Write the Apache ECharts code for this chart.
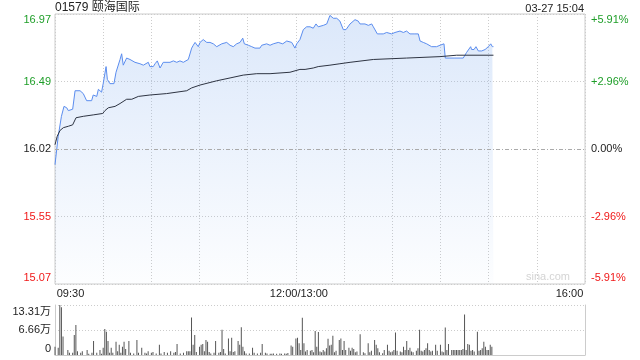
<!DOCTYPE html>
<html><head><meta charset="utf-8">
<script src="https://cdn.jsdelivr.net/npm/echarts@6/dist/echarts.min.js"></script>
<style>html,body{margin:0;padding:0;background:#fff}#c{width:640px;height:360px}</style>
</head><body><div id="c"></div>
<script>
const title = '01579 颐海国际';
const stamp = '03-27 15:04';
const preClose = 16.02;
const priceMin = 15.07, priceMax = 16.97;
const priceTicks = ['15.07', '15.55', '16.02', '16.49', '16.97'];
const pctTicks = ['-5.91%', '-2.96%', '0.00%', '+2.96%', '+5.91%'];
const tickColors = ['#f01818', '#f01818', '#222222', '#1e9e28', '#1e9e28'];
const timeTickPos = [0, 150, 330];
const timeTickText = ['09:30', '12:00/13:00', '16:00'];
const volMax = 13.31;
const volTicks = ['0', '6.66万', '13.31万'];

// minutes since 09:30 (lunch break removed)
const priceTimes = [
  0,2,4,5.6,6.2,7.3,8.3,11,12.5,15.6,
  17.6,19.7,22.8,23.8,24.9,26,27,29,30,31.8,
  32.6,34.2,36.7,38,40.5,41.5,42.5,44.6,46.7,49.8,
  50.9,52.9,55,56,58.1,59.1,61.2,62.3,63.7,65.4,
  67.4,71.6,73.7,75.8,77.8,79.9,80.9,83,84,85.1,
  86.1,87.2,88.2,89.2,90.3,92.3,94.5,96.5,98.6,100.7,
  101.7,103.8,106.9,109,111,113.1,115.2,116.9,117.9,120.4,
  122.5,124.5,127.6,128.7,131.8,133.9,135.9,139,140.1,141.8,
  144.3,147.4,149.4,150.5,152.5,154.6,156.7,158.8,160.8,162.5,
  163.9,167.1,169.2,171.2,173.3,175.4,177.4,179.5,181.2,183.7,
  186.8,188.8,189.9,193,195.1,197.2,198.2,200.7,202.4,204.4,
  206.5,209.6,211.7,214.8,216.9,218.9,221,224.1,226.2,227.3,
  229.3,231.4,232.4,234.5,237.6,239.7,242.2,243,245.9,249,
  250.1,252.2,254.2,256.3,257.3,258.8,259.4,260.9,262.1,263.6,
  265.7,267.8,269.8,271.3,272.3,273
];
const prices = [
  15.91,16.11,16.25,16.32,16.33,16.31,16.29,16.30,16.43,16.43,
  16.41,16.36,16.36,16.40,16.41,16.39,16.44,16.42,16.48,16.60,
  16.51,16.48,16.48,16.56,16.65,16.69,16.61,16.66,16.65,16.63,
  16.62,16.62,16.61,16.60,16.63,16.60,16.60,16.62,16.64,16.59,
  16.63,16.63,16.64,16.63,16.64,16.63,16.62,16.65,16.66,16.73,
  16.75,16.77,16.77,16.74,16.77,16.79,16.77,16.77,16.76,16.74,
  16.73,16.76,16.77,16.75,16.74,16.76,16.77,16.80,16.76,16.75,
  16.74,16.73,16.73,16.75,16.76,16.75,16.76,16.77,16.77,16.76,
  16.78,16.77,16.73,16.76,16.79,16.86,16.88,16.88,16.87,16.90,
  16.88,16.89,16.90,16.96,16.94,16.94,16.92,16.86,16.86,16.90,
  16.93,16.92,16.90,16.90,16.89,16.90,16.88,16.83,16.83,16.83,
  16.84,16.83,16.84,16.85,16.84,16.85,16.83,16.83,16.83,16.78,
  16.77,16.76,16.75,16.74,16.74,16.75,16.76,16.66,16.66,16.66,
  16.67,16.66,16.66,16.70,16.70,16.74,16.72,16.72,16.74,16.71,
  16.71,16.72,16.74,16.76,16.74,16.74
];
const avgTimes = [
  0,1.4,3.1,5.2,8.3,11,13.1,17.6,23.8,29.7,
  31.1,33.2,37.4,40.5,44.6,47.8,51.9,59.1,69.5,82,
  85.1,90.3,100.7,109,117.2,125.6,133.9,146.3,152.5,155.7,
  160.8,163.9,171.2,177.4,183.7,198.2,218.9,239.7,250.1,273
];
const avgPrices = [
  16.05,16.11,16.15,16.17,16.18,16.19,16.24,16.25,16.26,16.27,
  16.29,16.31,16.32,16.34,16.37,16.37,16.39,16.40,16.41,16.43,
  16.45,16.47,16.50,16.52,16.54,16.55,16.55,16.56,16.58,16.58,
  16.59,16.60,16.61,16.62,16.63,16.65,16.66,16.67,16.68,16.68
];
// [minute, volume in 万]
const volume = [
  [0,2.2],[2,1.9],[3,13.31],[4,12.7],[5,4.9],[8,1.3],[9,0.6],[11,0.6],[12,5.3],[13,8.0],
  [14,1.0],[16,0.6],[17,1.0],[20,1.3],[21,0.3],[23,0.6],[24,3.7],[26,0.6],[28,1.3],[29,0.3],
  [30,1.9],[31,6.9],[32,6.2],[33,3.7],[34,0.6],[35,1.9],[36,0.6],[38,3.5],[39,1.0],[40,2.7],
  [41,0.6],[42,2.2],[43,3.5],[44,1.6],[46,3.7],[47,0.6],[49,0.4],[51,4.0],[52,0.6],[54,1.9],
  [56,0.6],[57,0.4],[58,1.0],[60,0.6],[61,0.8],[63,0.4],[65,2.7],[66,0.4],[68,0.8],[70,0.6],
  [72,1.0],[74,0.6],[75,0.8],[76,2.9],[78,0.4],[80,0.6],[82,1.0],[83,1.0],[84,1.0],[85,10.0],
  [86,2.7],[87,5.3],[88,0.8],[90,2.2],[91,2.7],[92,2.9],[93,1.0],[94,4.0],[95,3.5],[96,0.8],
  [97,0.4],[99,0.6],[100,3.7],[102,0.6],[103,0.8],[104,6.7],[105,1.6],[106,0.4],[108,4.4],[109,1.0],
  [110,4.6],[111,0.8],[112,1.0],[114,3.7],[115,2.7],[116,7.4],[117,2.2],[118,1.0],[119,0.4],[121,0.4],
  [123,1.9],[124,0.6],[126,0.4],[128,0.6],[129,2.9],[131,0.6],[132,0.4],[134,0.3],[135,0.3],[136,0.4],
  [138,0.3],[140,0.4],[141,0.3],[143,0.4],[144,0.3],[145,0.5],[147,2.5],[148,2.2],[150,4.4],[151,4.6],
  [152,3.1],[153,1.3],[154,9.9],[155,3.1],[156,0.9],[157,1.3],[159,1.15],[160,1.3],[161,0.7],[162,6.4],
  [163,2.2],[164,6.1],[165,0.9],[166,0.7],[167,1.3],[168,0.9],[169,1.8],[170,4.3],[171,2.5],[172,2.7],
  [173,5.1],[174,0.7],[175,1.15],[177,4.0],[178,4.4],[179,1.3],[180,3.7],[181,1.3],[183,1.9],[184,1.15],
  [185,1.9],[186,1.6],[187,0.7],[188,0.9],[190,5.5],[192,0.7],[193,0.45],[195,3.1],[196,0.7],[197,1.15],
  [199,4.0],[200,2.7],[201,1.8],[202,0.7],[204,0.45],[205,1.3],[207,2.7],[208,1.15],[209,0.7],[210,0.9],
  [211,1.3],[212,6.0],[213,1.15],[215,0.9],[216,0.7],[217,2.2],[218,1.3],[219,3.7],[220,1.3],[221,1.9],
  [222,0.9],[223,0.7],[225,1.15],[226,1.8],[227,6.7],[228,1.15],[229,0.9],[230,1.3],[231,1.8],[232,3.1],
  [233,1.3],[234,0.9],[235,1.15],[237,2.7],[238,1.15],[240,2.7],[241,0.9],[242,0.7],[243,7.3],[244,1.3],
  [245,2.9],[247,1.3],[248,1.3],[249,1.3],[250,1.3],[251,1.3],[252,1.3],[253,1.3],[254,1.6],[255,10.8],
  [256,1.3],[257,2.9],[258,2.7],[259,1.15],[260,1.3],[261,0.9],[263,6.2],[264,1.15],[265,1.3],[266,1.8],
  [267,3.5],[268,2.2],[269,1.3],[270,1.3],[271,2.7],[272,2.2]
];

const FONT = 'Arial, "Liberation Sans", "Noto Sans CJK SC", sans-serif';
const chart = echarts.init(document.getElementById('c'), null, {renderer: 'canvas'});

const priceRich = {}, pctRich = {};
tickColors.forEach((c, i) => {
  const pad = i === 4 ? [12, 0, 0, 0] : (i === 0 ? [0, 0, 12, 0] : 0);
  priceRich['p' + i] = {color: c, fontSize: 11, fontFamily: FONT, padding: pad};
  pctRich['p' + i] = {color: c, fontSize: 11, fontFamily: FONT, padding: pad};
});

const option = {
  animation: false,
  backgroundColor: '#fff',
  textStyle: {fontFamily: FONT},
  graphic: [
    {type: 'text', left: 55, top: 2, style: {text: title, fontSize: 12, fill: '#222', fontFamily: FONT}},
    {type: 'text', right: 56, top: 3, style: {text: stamp, fontSize: 11, fill: '#222', fontFamily: FONT}},
    {type: 'text', right: 70, top: 271, style: {text: 'sina.com', fontSize: 11, fill: '#d4d4d4', fontFamily: FONT}}
  ],
  grid: [
    {left: 55, top: 14, width: 530, height: 270, show: true, borderColor: '#cccccc', borderWidth: 1, backgroundColor: 'transparent'},
    {left: 55, top: 305, width: 530, height: 50}
  ],
  xAxis: [
    {
      gridIndex: 0, type: 'value', min: 0, max: 330, interval: 30,
      axisLine: {show: false}, axisTick: {show: false},
      splitLine: {show: true, lineStyle: {color: '#cccccc', type: [1, 2], width: 1}},
      axisLabel: {
        margin: 4, color: '#222', fontSize: 11,
        formatter: v => { const i = timeTickPos.indexOf(v); return i < 0 ? '' : '{t' + i + '|' + timeTickText[i] + '}'; },
        rich: {
          t0: {fontSize: 11, color: '#222', fontFamily: FONT, padding: [0, 0, 0, 31]},
          t1: {fontSize: 11, color: '#222', fontFamily: FONT, padding: [0, 0, 0, 6]},
          t2: {fontSize: 11, color: '#222', fontFamily: FONT, padding: [0, 31, 0, 0]}
        }
      }
    },
    {
      gridIndex: 1, type: 'value', min: 0, max: 330, interval: 30,
      axisLine: {show: true, lineStyle: {color: '#cccccc'}}, axisTick: {show: false},
      axisLabel: {show: false}, splitLine: {show: false}
    }
  ],
  yAxis: [
    {
      gridIndex: 0, type: 'value', min: 0, max: 4, interval: 1, position: 'left',
      axisLine: {show: false}, axisTick: {show: false},
      splitLine: {show: true, lineStyle: {color: ['#cccccc', '#cccccc', 'rgba(0,0,0,0)', '#cccccc', '#cccccc'], type: [1, 2]}},
      axisLabel: {margin: 4, formatter: v => '{p' + v + '|' + priceTicks[v] + '}', rich: priceRich}
    },
    {
      gridIndex: 0, type: 'value', min: 0, max: 4, interval: 1, position: 'right',
      axisLine: {show: false}, axisTick: {show: false}, splitLine: {show: false},
      axisLabel: {margin: 6, formatter: v => '{p' + v + '|' + pctTicks[v] + '}', rich: pctRich}
    },
    {gridIndex: 0, type: 'value', min: priceMin, max: priceMax, show: false, splitLine: {show: false}},
    {
      gridIndex: 1, type: 'value', min: 0, max: volMax, interval: volMax / 2, position: 'left',
      axisLine: {show: true, lineStyle: {color: '#cccccc'}}, axisTick: {show: false},
      splitLine: {show: true, lineStyle: {color: '#cccccc', type: [1, 2]}},
      axisLabel: {
        margin: 4,
        formatter: v => { const i = Math.round(v / (volMax / 2)); return '{v' + i + '|' + volTicks[i] + '}'; },
        rich: {
          v0: {fontSize: 11, color: '#222', fontFamily: FONT, padding: [0, 0, 12, 0]},
          v1: {fontSize: 11, color: '#222', fontFamily: FONT},
          v2: {fontSize: 11, color: '#222', fontFamily: FONT, padding: [14, 0, 0, 0]}
        }
      }
    },
    {
      gridIndex: 1, type: 'value', min: 0, max: volMax, position: 'right',
      axisLine: {show: true, lineStyle: {color: '#cccccc'}}, axisTick: {show: false},
      axisLabel: {show: false}, splitLine: {show: false}
    }
  ],
  series: [
    {
      type: 'line', xAxisIndex: 0, yAxisIndex: 2,
      data: priceTimes.map((t, i) => [t, prices[i]]),
      showSymbol: false, symbol: 'none',
      lineStyle: {color: '#5b8def', width: 1},
      areaStyle: {
        origin: 'start',
        color: new echarts.graphic.LinearGradient(0, 0, 0, 1, [
          {offset: 0, color: 'rgba(140,180,240,0.44)'},
          {offset: 1, color: 'rgba(140,180,240,0.03)'}
        ])
      },
      markLine: {
        silent: true, symbol: ['none', 'none'], label: {show: false},
        lineStyle: {color: '#aaaaaa', type: [4, 2, 1, 2], width: 1},
        data: [{yAxis: preClose}]
      },
      z: 3
    },
    {
      type: 'line', xAxisIndex: 0, yAxisIndex: 2,
      data: avgTimes.map((t, i) => [t, avgPrices[i]]),
      showSymbol: false, symbol: 'none',
      lineStyle: {color: '#2e3442', width: 1},
      z: 4
    },
    {
      type: 'bar', xAxisIndex: 1, yAxisIndex: 3,
      data: volume, barWidth: 1,
      itemStyle: {color: '#555555'}
    }
  ]
};
chart.setOption(option);
</script>
</body></html>
